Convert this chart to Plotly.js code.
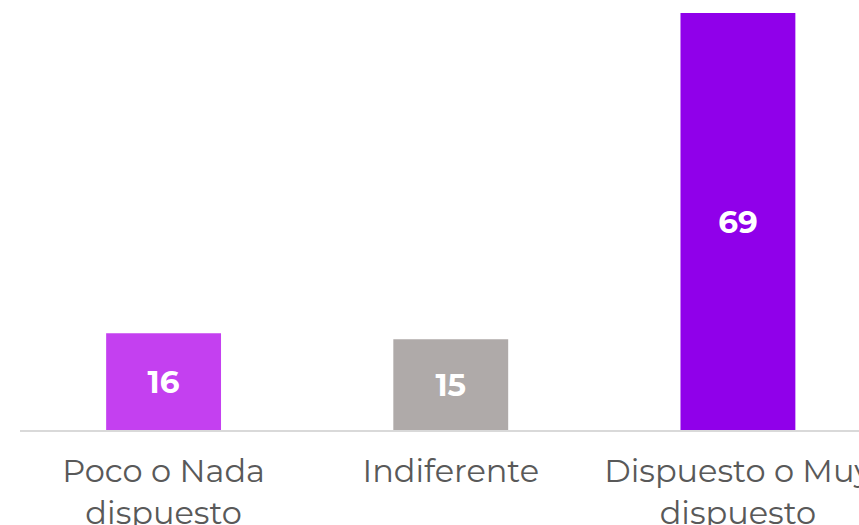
<!DOCTYPE html>
<html>
<head>
<meta charset="utf-8">
<script src="https://cdn.plot.ly/plotly-3.0.1.min.js"></script>
<style>html,body{margin:0;padding:0;overflow:hidden;background:#fff;}</style>
</head>
<body>
<div id="chart" style="width:859px;height:525px;"></div>
<script>
const categories = ["Poco o Nada<br>dispuesto", "Indiferente", "Dispuesto o Muy<br>dispuesto"];
const values = [16, 15, 69];
const colors = ["#C440F0", "#AFAAA9", "#9000EA"];

const trace = {
  type: "bar",
  x: categories,
  y: values,
  marker: {color: colors},
  width: 0.4,
  text: values.map(String),
  textposition: "inside",
  insidetextanchor: "middle",
  textangle: 0,
  textfont: {family: "Montserrat, 'DejaVu Sans', sans-serif", size: 31, color: "#ffffff", weight: "bold"},
  hoverinfo: "none"
};

const layout = {
  width: 859,
  height: 525,
  margin: {l: 20, r: 0, t: 13, b: 95},
  paper_bgcolor: "#ffffff",
  plot_bgcolor: "#ffffff",
  showlegend: false,
  xaxis: {
    type: "category",
    range: [-0.5, 2.4216],
    showline: true,
    linecolor: "#d9d9d9",
    linewidth: 2,
    showgrid: false,
    zeroline: false,
    ticks: "",
    ticklabelstandoff: 12,
    tickfont: {family: "Montserrat, 'DejaVu Sans', sans-serif", size: 32, color: "#595959"},
    automargin: false
  },
  yaxis: {
    range: [0, 69],
    visible: false,
    showgrid: false,
    zeroline: false
  }
};

Plotly.newPlot("chart", [trace], layout, {displayModeBar: false, staticPlot: true});
</script>
</body>
</html>
